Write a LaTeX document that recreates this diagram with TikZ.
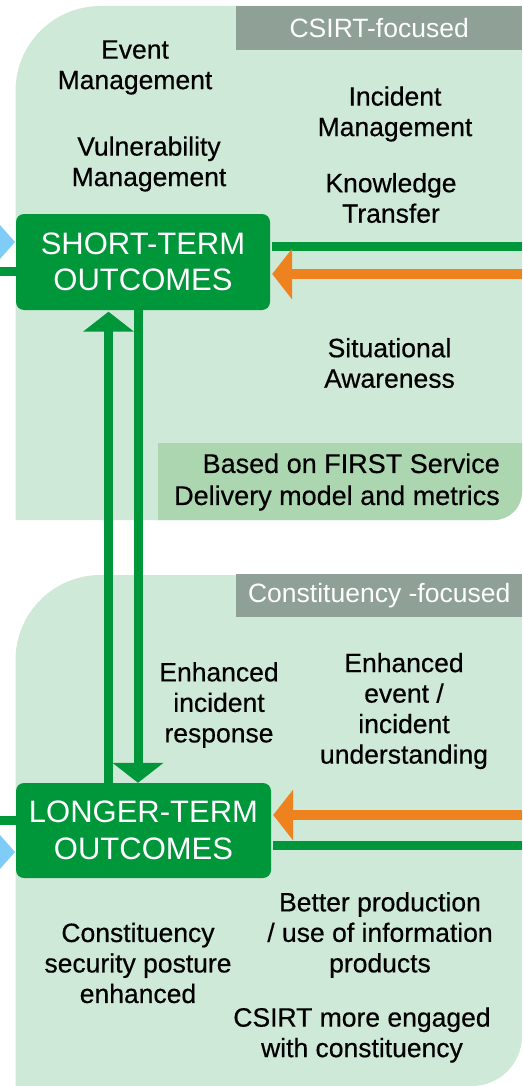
\documentclass[tikz,border=0pt]{standalone}
\usepackage{fontspec}
\setmainfont{Liberation Sans}
\newfontfamily\medfont{Liberation Sans}[FakeBold=0.5]
\usetikzlibrary{arrows.meta}
\definecolor{panel}{HTML}{CFE9D8}
\definecolor{basedbox}{HTML}{ACD6B0}
\definecolor{graybar}{HTML}{8FA096}
\definecolor{dkgreen}{HTML}{00963A}
\definecolor{orangearr}{HTML}{EE821E}
\definecolor{bluearr}{HTML}{80CCF8}
\begin{document}
\begin{tikzpicture}[x=1pt,y=-1pt,
  txt/.style={align=center, inner sep=0pt, text=black, font=\medfont\fontsize{26.5}{30.5}\selectfont},
  outbox/.style={fill=dkgreen, rounded corners=8pt, text=white, align=center, inner sep=0pt,
    font=\fontsize{31}{36.5}\selectfont},
  bar/.style={fill=graybar, text=white, inner sep=0pt, minimum width=286pt,
    font=\fontsize{26.5}{30}\selectfont},
  gline/.style={draw=dkgreen, line width=9pt},
  garrow/.style={gline, -{Triangle[width=50pt,length=20pt]}},
  oarrow/.style={draw=orangearr, line width=10pt, -{Triangle[width=50pt,length=20pt]}},
  tipshape/.style={fill=bluearr}
]
\useasboundingbox (0,0) rectangle (522,1086);

% panels
\fill[panel] (15.5,520) -- (15.5,91) arc[start angle=180,end angle=90,radius=85pt]
  -- (522,6) -- (522,492) arc[start angle=0,end angle=-90,radius=28pt] -- cycle;
\fill[basedbox] (158,443) -- (522,443) -- (522,492) arc[start angle=0,end angle=-90,radius=28pt]
  -- (158,520) -- cycle;
\fill[panel] (15.5,1086) -- (15.5,660) arc[start angle=180,end angle=90,radius=85pt]
  -- (522,575) -- (522,1036) arc[start angle=0,end angle=-90,radius=50pt] -- cycle;

% header bars
\node[bar, anchor=north west, minimum height=44pt] (csirtbar) at (236,6) {CSIRT-focused};
\node[bar, anchor=north west, minimum height=43pt] (constbar) at (236,574) {Constituency -focused};

% outcome boxes
\node[outbox, minimum width=254pt, minimum height=96pt] (ST) at (143,262) {SHORT-TERM\\OUTCOMES};
\node[outbox, minimum width=255pt, minimum height=95pt] (LT) at (143.5,830.5) {LONGER-TERM\\OUTCOMES};

% left-side inputs
\fill[tipshape] (0,225) -- (15,242) -- (0,259) -- cycle;
\fill[tipshape] (0,835) -- (15,852) -- (0,869) -- cycle;
\coordinate (lin1) at (0,271);
\coordinate (lin2) at (0,820);
\draw[gline] (lin1) -- (lin1 -| ST.west);
\draw[gline] (lin2) -- (lin2 -| LT.west);

% right-side connectors
\coordinate (r1) at (522,246);
\coordinate (r2) at (522,274);
\coordinate (r3) at (522,815);
\coordinate (r4) at (522,845);
\draw[gline, shorten <=2pt] (r1 -| ST.east) -- (r1);
\draw[oarrow, shorten >=2pt] (r2) -- (r2 -| ST.east);
\draw[oarrow, shorten >=2pt] (r3) -- (r3 -| LT.east);
\draw[gline, shorten <=2pt] (r4 -| LT.east) -- (r4);

% vertical arrows
\coordinate (ux) at (108.5,0);
\coordinate (dx) at (138,0);
\draw[garrow, shorten >=1.5pt] (LT.north -| ux) -- (ST.south -| ux);
\draw[garrow] (ST.south -| dx) -- (LT.north -| dx);

% texts top
\node[txt] (evm) at (135,67.5) {Event\\Management};
\node[txt] (vum) at (149,164) {Vulnerability\\Management};
\node[txt] (inm) at (395,114) {Incident\\Management};
\node[txt] (kt) at (391,198) {Knowledge\\Transfer};
\node[txt] (sa) at (389.5,363) {Situational\\Awareness};
\node[txt, align=right, anchor=east, font=\medfont\fontsize{27}{32}\selectfont] (based) at (500,482)
  {Based on FIRST Service\\Delivery model and metrics};

% texts bottom
\node[txt] (eir) at (219,705) {Enhanced\\incident\\response};
\node[txt] (eeu) at (404,711) {Enhanced\\event /\\incident\\understanding};
\node[txt] (csp) at (138,963) {Constituency\\security posture\\enhanced};
\node[txt] (bpu) at (380,935) {Better production\\/ use of information\\products};
\node[txt] (cme) at (362,1035) {CSIRT more engaged\\with constituency};
\end{tikzpicture}
\end{document}
